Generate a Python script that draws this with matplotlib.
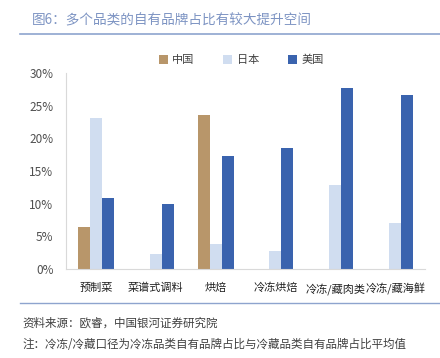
import matplotlib
matplotlib.use('Agg')
import matplotlib.pyplot as plt
from matplotlib.lines import Line2D
import numpy as np

plt.rcParams['font.family'] = ['Noto Sans CJK SC', 'DejaVu Sans']

# ════════════════ 数据 ════════════════
categories = ['预制菜', '菜谱式调料', '烘焙', '冷冻烘焙', '冷冻/藏肉类', '冷冻/藏海鲜']
series_names = ['中国', '日本', '美国']
china = [6.5, 0, 23.6, 0, 0, 0]
japan = [23.1, 2.3, 3.9, 2.8, 12.9, 7.0]
usa = [10.9, 9.9, 17.3, 18.5, 27.8, 26.7]
yticks = [0, 5, 10, 15, 20, 25, 30]

colors = ['#B8966A', '#D0DDF0', '#3A63AE']

fig = plt.figure(figsize=(4.4, 3.58), dpi=100, facecolor='white')
ax = fig.add_axes([0.15, 0.2486, 0.816, 0.547])

x = np.arange(len(categories))
w = 0.2
for i, (vals, c) in enumerate(zip([china, japan, usa], colors)):
    ax.bar(x + (i - 1) * w, vals, width=w, color=c, label=series_names[i],
           edgecolor='none', zorder=2)

ax.set_xlim(-0.5, len(categories) - 0.5)
ax.set_ylim(0, 30)
ax.set_yticks(yticks)
ax.set_yticklabels([f'{v}%' for v in yticks], fontsize=8.5, color='#505050')
ax.set_xticks(x)
ax.set_xticklabels(categories, fontsize=8, color='#202020')
ax.tick_params(axis='y', length=0, pad=9)
ax.tick_params(axis='x', length=0, pad=10)
for s in ['top', 'right']:
    ax.spines[s].set_visible(False)
for s in ['left', 'bottom']:
    ax.spines[s].set_color('#D9D9D9')
    ax.spines[s].set_linewidth(0.8)

leg = ax.legend(loc='lower center', bbox_to_anchor=(0.488, 1.0), ncol=3, frameon=False,
                fontsize=8, handlelength=0.8, handleheight=0.8, handletextpad=0.4,
                columnspacing=2.6, borderaxespad=0.3)
for t in leg.get_texts():
    t.set_color('#404040')

# 标题与分隔线
fig.text(32 / 440, 1 - 20 / 358, '图6：多个品类的自有品牌占比有较大提升空间',
         fontsize=9.8, color='#7D94C3', va='center', ha='left')
fig.add_artist(Line2D([20 / 440, 1], [1 - 33.5 / 358] * 2, color='#8EA4CE', lw=1.2))
fig.add_artist(Line2D([20 / 440, 1], [1 - 302.5 / 358] * 2, color='#8EA4CE', lw=1.0))

fig.text(22 / 440, 1 - 323 / 358, '资料来源：欧睿，中国银河证券研究院',
         fontsize=8.3, color='#404040', va='center', ha='left', style='italic')
fig.text(22 / 440, 1 - 344 / 358, '注：冷冻/冷藏口径为冷冻品类自有品牌占比与冷藏品类自有品牌占比平均值',
         fontsize=8.3, color='#404040', va='center', ha='left', style='italic')

fig.savefig('out.png', dpi=100, facecolor='white')
